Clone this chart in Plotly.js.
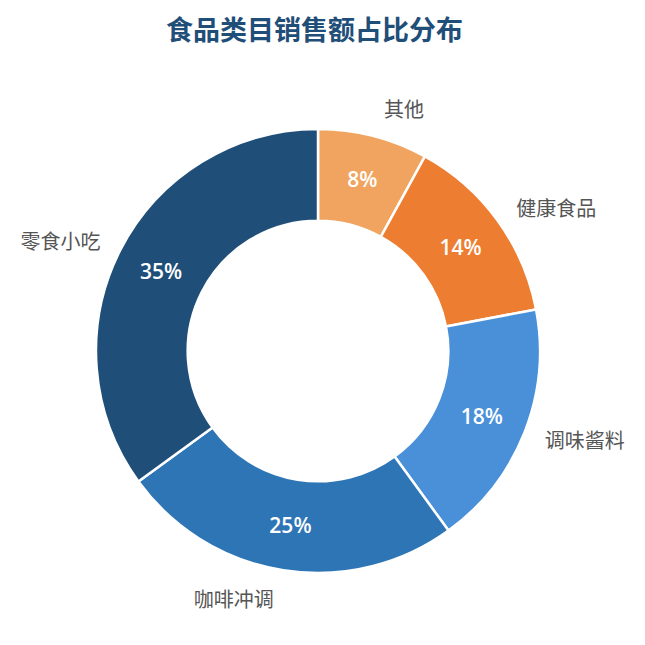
<!DOCTYPE html>
<html>
<head>
<meta charset="utf-8">
<script src="https://cdn.plot.ly/plotly-3.0.1.min.js"></script>
<style>html,body{margin:0;padding:0;background:#fff}</style>
</head>
<body>
<div id="chart" style="width:645px;height:645px"></div>
<script>
const categories = ["其他", "健康食品", "调味酱料", "咖啡冲调", "零食小吃"];
const shares = [8, 14, 18, 25, 35];
const colors = ["#F0A460", "#ED7D31", "#4A90D9", "#2E75B6", "#1F4E79"];

let common = {
  labels: categories,
  values: shares,
  type: "pie",
  sort: false,
  direction: "clockwise",
  rotation: 0,
  showlegend: false,
};

// percent inside the ring
let inner = Object.assign({}, common, {
  hole: 0.587,
  domain: {x: [31 / 506, 475 / 506], y: [31 / 506, 475 / 506]},
  marker: {colors: colors, line: {color: "#ffffff", width: 2.5}},
  textinfo: "percent",
  textposition: "inside",
  insidetextorientation: "horizontal",
  insidetextfont: {color: "#ffffff", size: 21, family: "Open Sans, sans-serif", weight: 600},
  hovertemplate: "%{label}: %{percent}<extra></extra>",
});

// category names outside, on a slightly larger invisible ring
let outer = Object.assign({}, common, {
  hole: 0.587,
  domain: {x: [17 / 506, 489 / 506], y: [17 / 506, 489 / 506]},
  marker: {colors: categories.map(() => "rgba(0,0,0,0)"), line: {width: 0}},
  textinfo: "label",
  textposition: "outside",
  outsidetextfont: {color: "#555555", size: 20, family: "Noto Sans CJK SC, sans-serif"},
  hoverinfo: "skip",
});

let layout = {
  width: 645,
  height: 645,
  margin: {t: 98, b: 41, l: 65, r: 74},
  paper_bgcolor: "#ffffff",
  title: {
    text: "<b>食品类目销售额占比分布</b>",
    x: 0.493,
    xref: "paper",
    y: 0.953,
    yanchor: "middle",
    xanchor: "center",
    font: {size: 27, color: "#1F4E79", family: "Noto Sans CJK SC, sans-serif"},
  },
};

Plotly.newPlot("chart", [inner, outer], layout, {displaylogo: false, displayModeBar: false});
</script>
</body>
</html>
